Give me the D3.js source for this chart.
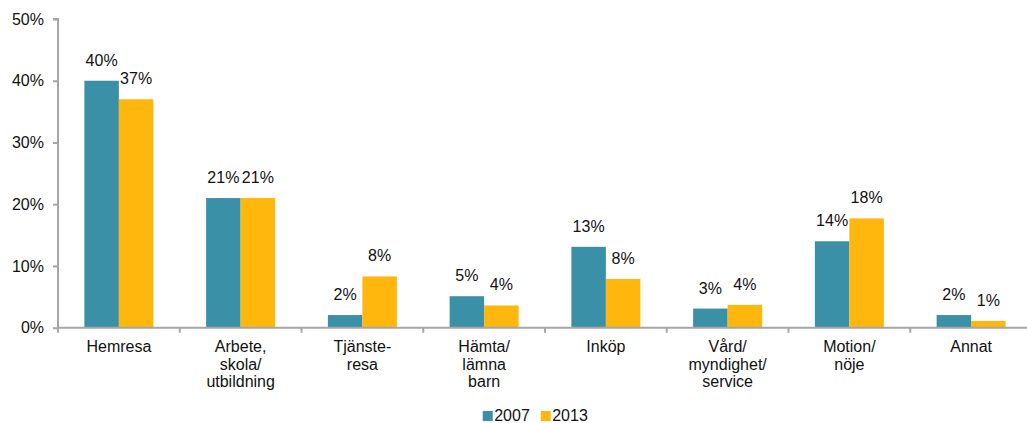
<!DOCTYPE html>
<html>
<head>
<meta charset="utf-8">
<script src="https://cdn.jsdelivr.net/npm/d3@7"></script>
<style>
  html, body { margin: 0; padding: 0; background: #fff; }
  svg { display: block; font-family: "Liberation Sans", Arial, sans-serif; }
  svg text { font-family: "Liberation Sans", Arial, sans-serif; }
</style>
</head>
<body>
<svg id="chart" width="1027" height="423"></svg>
<script>
const categories = ["Hemresa", "Arbete,\nskola/\nutbildning", "Tjänste-\nresa", "Hämta/\nlämna\nbarn", "Inköp", "Vård/\nmyndighet/\nservice", "Motion/\nnöje", "Annat"];
const series = ["2007", "2013"];
const values2007 = [40, 21, 2.05, 5.1, 13.1, 3.1, 14.0, 2.05];
const values2013 = [37, 21, 8.3, 3.6, 7.9, 3.7, 17.7, 1.1];
const labels2007 = ["40%", "21%", "2%", "5%", "13%", "3%", "14%", "2%"];
const labels2013 = ["37%", "21%", "8%", "4%", "8%", "4%", "18%", "1%"];
const yTicks = [0, 10, 20, 30, 40, 50];
const colors = { "2007": "#3A91A7", "2013": "#FFB60D" };

(function () {
const svg = d3.select("#chart");
const mLeft = 58, mRight = 1032, mTop = 19, mBottom = 327.7;
const FS = 16;

const x0 = d3.scaleBand().domain(categories).range([mLeft, mRight]).paddingInner(0).paddingOuter(0);
const x1 = d3.scaleBand().domain(series).range([0, x0.bandwidth()]).paddingInner(0).paddingOuter(0.764);
const y = d3.scaleLinear().domain([0, 50]).range([mBottom, mTop]);

const data = categories.map((c, i) => ({
  cat: c,
  vals: [
    { s: "2007", v: values2007[i], lab: labels2007[i] },
    { s: "2013", v: values2013[i], lab: labels2013[i] }
  ]
}));

const g = svg.append("g");
const groups = g.selectAll("g.cat").data(data).join("g")
  .attr("class", "cat")
  .attr("transform", d => `translate(${x0(d.cat)},0)`);

groups.selectAll("rect").data(d => d.vals).join("rect")
  .attr("x", d => x1(d.s))
  .attr("y", d => y(d.v))
  .attr("width", x1.bandwidth())
  .attr("height", d => y(0) - y(d.v))
  .attr("fill", d => colors[d.s]);

groups.selectAll("text.val").data(d => d.vals).join("text")
  .attr("class", "val")
  .attr("x", d => x1(d.s) + x1.bandwidth() / 2)
  .attr("y", d => y(d.v) - 15)
  .attr("text-anchor", "middle")
  .attr("font-size", FS)
  .attr("fill", "#111")
  .text(d => d.lab);

const yAxis = d3.axisLeft(y).tickValues(yTicks).tickFormat(d => d + "%").tickSize(5).tickPadding(9);
const ya = svg.append("g").attr("transform", `translate(${mLeft},0)`).call(yAxis);
ya.attr("font-family", null).attr("font-size", null);
ya.select(".domain").attr("stroke", "#A6A6A6").attr("stroke-width", 2)
  .attr("d", `M-5,${mTop}H0V${mBottom + 5}`);
ya.selectAll(".tick line").attr("stroke", "#A6A6A6").attr("stroke-width", 2);
ya.selectAll(".tick text").attr("font-size", FS).attr("fill", "#111");

const xa = svg.append("g").attr("transform", `translate(0,${mBottom})`);
xa.append("line").attr("x1", mLeft).attr("x2", mRight).attr("y1", 0).attr("y2", 0)
  .attr("stroke", "#A6A6A6").attr("stroke-width", 2);
xa.selectAll("line.tk").data(categories.slice(1)).join("line")
  .attr("class", "tk")
  .attr("x1", d => x0(d)).attr("x2", d => x0(d))
  .attr("y1", 0).attr("y2", 5)
  .attr("stroke", "#A6A6A6").attr("stroke-width", 2);

const catText = xa.selectAll("text.cat").data(categories).join("text")
  .attr("class", "cat")
  .attr("text-anchor", "middle")
  .attr("font-size", FS)
  .attr("fill", "#111")
  .attr("transform", d => `translate(${x0(d) + x0.bandwidth() / 2},${24.5})`);
catText.selectAll("tspan").data(d => d.split("\n")).join("tspan")
  .attr("x", 0)
  .attr("y", (d, i) => i * 17.5)
  .text(d => d);

const legend = svg.append("g");
const legendX = [482.7, 540.7];
series.forEach((s, i) => {
  legend.append("rect")
    .attr("x", legendX[i]).attr("y", 411)
    .attr("width", 10).attr("height", 10)
    .attr("fill", colors[s]);
  legend.append("text")
    .attr("x", legendX[i] + 11.5).attr("y", 421)
    .attr("font-size", FS).attr("fill", "#111")
    .text(s);
});
})();
</script>
</body>
</html>
